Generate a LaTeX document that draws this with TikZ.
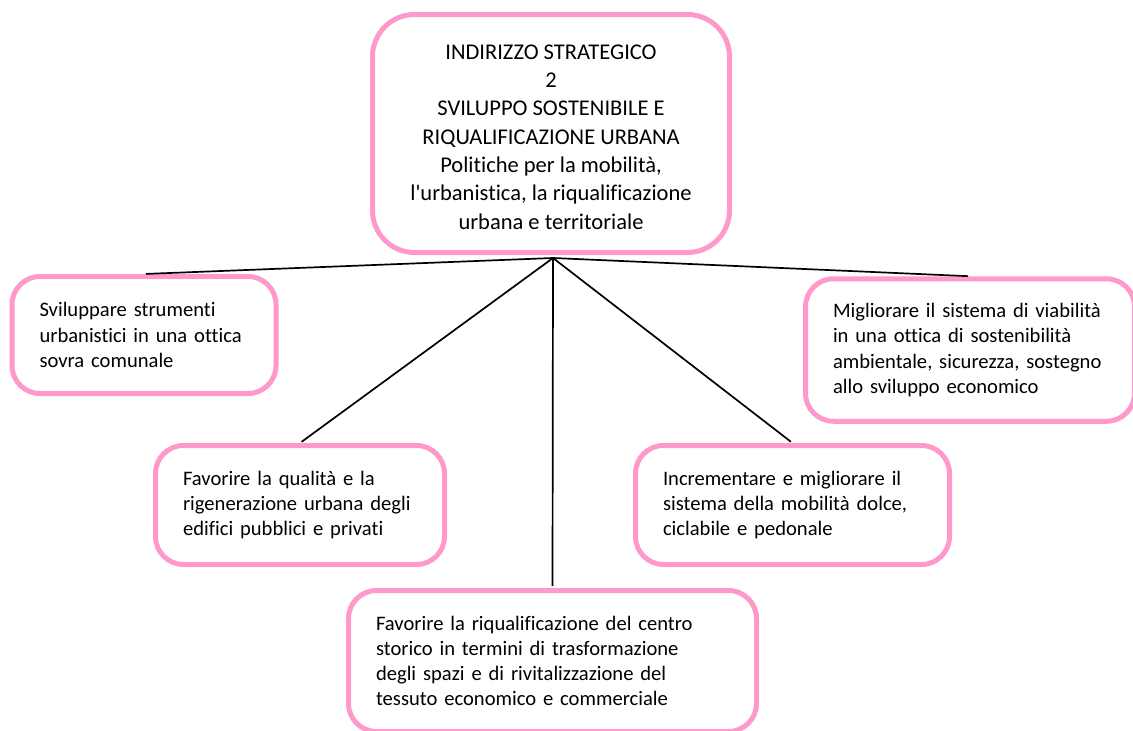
\documentclass[tikz,border=0pt]{standalone}
\usepackage{fontspec}
\setmainfont{Carlito}[Ligatures={NoCommon}]
\definecolor{boxpink}{HTML}{FF99CC}
\begin{document}
\begin{tikzpicture}[x=1pt,y=-1pt,
  pinkbox/.style={draw=boxpink, line width=5pt, rounded corners=28pt, fill=white,
    inner xsep=27.5pt, inner ysep=0pt, align=left,
    font=\fontsize{20.6}{25.2}\selectfont},
  topbox/.style={draw=boxpink, line width=5pt, rounded corners=42pt, fill=white,
    inner sep=0pt},
  toptext/.style={inner sep=0pt, align=center,
    font=\fontsize{22.5}{28.3}\selectfont},
  link/.style={draw=black, line width=1.7pt, shorten >=2pt}]
\useasboundingbox (0,0) rectangle (1133,731);
\clip (0,0) rectangle (1133,731);
\fill[white] (0,0) rectangle (1133,731);

\node[topbox, minimum width=357pt, minimum height=238pt] (top) at (551,133.5) {};
\node[toptext] (toplabel) at (551,137)
  {INDIRIZZO STRATEGICO\\2\\SVILUPPO SOSTENIBILE E\\RIQUALIFICAZIONE URBANA\\Politiche per la mobilità,\\l\textquotesingle urbanistica, la riqualificazione\\urbana e territoriale};

\coordinate (J) at (553,258);

\node[pinkbox, minimum width=264pt, text width=209pt, minimum height=117pt] (b1) at (144,335)
  {Sviluppare strumenti\\urbanistici in una ottica\\sovra comunale};
\node[pinkbox, minimum width=329pt, text width=274pt, minimum height=142.5pt] (b3) at (970,350)
  {Migliorare il sistema di viabilità\\in una ottica di sostenibilità\\ambientale, sicurezza, sostegno\\allo sviluppo economico};
\node[pinkbox, minimum width=289pt, text width=234pt, minimum height=119pt] (b2) at (300,505)
  {Favorire la qualità e la\\rigenerazione urbana degli\\edifici pubblici e privati};
\node[pinkbox, minimum width=314pt, text width=259pt, minimum height=119pt] (b4) at (792.5,505)
  {Incrementare e migliorare il\\sistema della mobilità dolce,\\ciclabile e pedonale};
\node[pinkbox, minimum width=408pt, text width=353pt, minimum height=141pt] (b5) at (552.5,661)
  {Favorire la riqualificazione del centro\\storico in termini di trasformazione\\degli spazi e di rivitalizzazione del\\tessuto economico e commerciale};

\draw[link] (J) -- (b1.north);
\draw[link] (J) -- (b3.north);
\draw[link] (J) -- (b2.north);
\draw[link] (J) -- (b4.north);
\draw[link] (J) -- (b5.north);
\end{tikzpicture}
\end{document}
